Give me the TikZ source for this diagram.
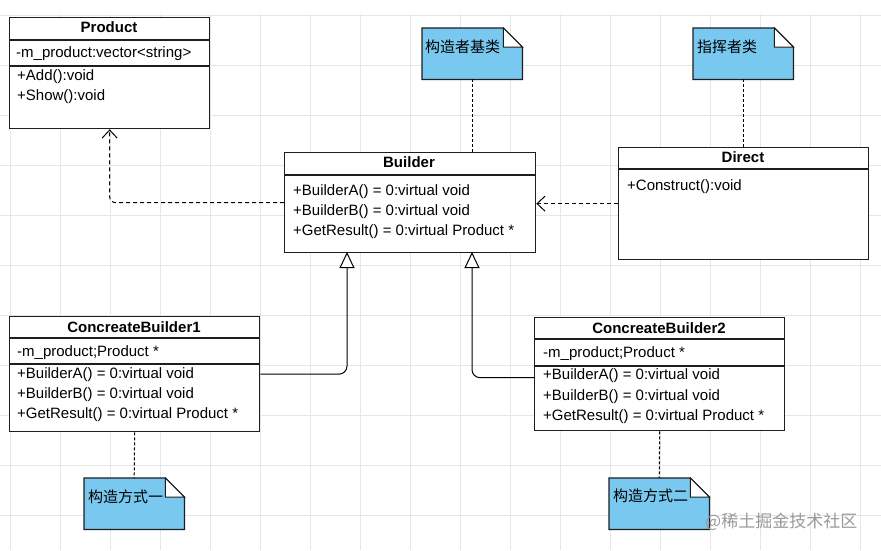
\documentclass[tikz,border=0pt]{standalone}
\usepackage{fontspec}
\setmainfont{Liberation Sans}
\newfontfamily\cjk{Noto Sans CJK SC}
\usetikzlibrary{arrows.meta}
\definecolor{notefill}{HTML}{79C8F0}
\definecolor{gridgray}{HTML}{E6E6E6}
\definecolor{inkline}{HTML}{1E1E1E}
\tikzset{
  umlbox/.style={draw=inkline,line width=1.3pt,fill=white,anchor=north west,inner sep=0pt},
  classname/.style={font=\fontsize{15}{18}\selectfont\bfseries,anchor=base,inner sep=0pt},
  member/.style={font=\fontsize{15}{18}\selectfont,anchor=base west,inner sep=0pt},
  notetext/.style={font=\cjk\fontsize{15}{18}\selectfont,anchor=west,inner sep=0pt},
  notebox/.style={minimum width=100pt,minimum height=51pt,anchor=north west,inner sep=0pt},
  depend/.style={-{Straight Barb[length=8pt,width=15pt]},line width=1pt,dash pattern=on 4pt off 3pt,rounded corners=6pt},
  inherit/.style={-{Triangle[open,fill=white,length=16pt,width=15pt]},line width=1pt,rounded corners=8pt},
  anchorline/.style={line width=1pt,dash pattern=on 3pt off 2pt}
}
\newcommand{\drawnote}[1]{%
  \filldraw[fill=notefill,draw=inkline,line width=1.2pt]
    (#1.north west) -- ([xshift=-19pt]#1.north east) -- ([yshift=-19pt]#1.north east)
    -- (#1.south east) -- (#1.south west) -- cycle;
  \filldraw[fill=white,draw=inkline,line width=1pt]
    ([xshift=-19pt]#1.north east) -- ([xshift=-19pt,yshift=-19pt]#1.north east)
    -- ([yshift=-19pt]#1.north east) -- cycle;}
\begin{document}
\begin{tikzpicture}[x=1pt,y=-1pt]
  \useasboundingbox[fill=white] (0,0) rectangle (881,550);
  % background grid
  \foreach \gx in {10,60,...,860}
    \draw[gridgray,line width=0.8pt] (\gx,14) -- (\gx,550);
  \foreach \gy in {15,65,...,515}
    \draw[gridgray,line width=0.8pt] (0,\gy) -- (881,\gy);

  % class boxes
  \node[umlbox,minimum width=200pt,minimum height=111pt] (product) at (9,17) {};
  \node[umlbox,minimum width=251pt,minimum height=100pt] (builder) at (284,152) {};
  \node[umlbox,minimum width=250pt,minimum height=112pt] (direct) at (618,147) {};
  \node[umlbox,minimum width=250pt,minimum height=115pt] (cb1) at (9,316) {};
  \node[umlbox,minimum width=250pt,minimum height=113pt] (cb2) at (534,317) {};

  % compartments
  \draw[inkline,line width=1.3pt] ([yshift=-23pt]product.north west) -- ([yshift=-23pt]product.north east);
  \draw[inkline,line width=1.3pt] ([yshift=-49pt]product.north west) -- ([yshift=-49pt]product.north east);
  \draw[inkline,line width=1.3pt] ([yshift=-23pt]builder.north west) -- ([yshift=-23pt]builder.north east);
  \draw[inkline,line width=1.3pt] ([yshift=-22pt]direct.north west) -- ([yshift=-22pt]direct.north east);
  \draw[inkline,line width=1.3pt] ([yshift=-22pt]cb1.north west) -- ([yshift=-22pt]cb1.north east);
  \draw[inkline,line width=1.3pt] ([yshift=-48pt]cb1.north west) -- ([yshift=-48pt]cb1.north east);
  \draw[inkline,line width=1.3pt] ([yshift=-22pt]cb2.north west) -- ([yshift=-22pt]cb2.north east);
  \draw[inkline,line width=1.3pt] ([yshift=-49pt]cb2.north west) -- ([yshift=-49pt]cb2.north east);

  % Product
  \node[classname] (productname) at (109,32) {Product};
  \node[member] (productattr) at (16,57) {-m\_product:vector<string>};
  \node[member] (productadd) at (17,80) {+Add():void};
  \node[member] (productshow) at (17,100) {+Show():void};

  % Builder
  \node[classname] (buildername) at (409,167) {Builder};
  \node[member] (buildera) at (293,195) {+BuilderA() = 0:virtual void};
  \node[member] (builderb) at (293,215) {+BuilderB() = 0:virtual void};
  \node[member] (builderres) at (293,235) {+GetResult() = 0:virtual Product *};

  % Direct
  \node[classname] (directname) at (743,162) {Direct};
  \node[member] (directcon) at (627,190) {+Construct():void};

  % ConcreateBuilder1
  \node[classname] (cbonename) at (134,332) {ConcreateBuilder1};
  \node[member] (cboneattr) at (17,356) {-m\_product;Product *};
  \node[member] (cbonea) at (17,378) {+BuilderA() = 0:virtual void};
  \node[member] (cboneb) at (17,398) {+BuilderB() = 0:virtual void};
  \node[member] (cboneres) at (17,418) {+GetResult() = 0:virtual Product *};

  % ConcreateBuilder2
  \node[classname] (cbtwoname) at (659,333) {ConcreateBuilder2};
  \node[member] (cbtwoattr) at (543,357) {-m\_product;Product *};
  \node[member] (cbtwoa) at (543,379) {+BuilderA() = 0:virtual void};
  \node[member] (cbtwob) at (543,400) {+BuilderB() = 0:virtual void};
  \node[member] (cbtwores) at (543,420) {+GetResult() = 0:virtual Product *};

  % notes
  \node[notebox] (notebuilder) at (422,28) {};
  \node[notebox] (notedirect) at (693,28) {};
  \node[notebox] (noteone) at (84,478) {};
  \node[notebox] (notetwo) at (609,478) {};
  \drawnote{notebuilder}
  \drawnote{notedirect}
  \drawnote{noteone}
  \drawnote{notetwo}
  \node[notetext] (notebuildertext) at (425,47) {构造者基类};
  \node[notetext] (notedirecttext) at (697,47) {指挥者类};
  \node[notetext] (noteonetext) at (88,497) {构造方式一};
  \node[notetext] (notetwotext) at (613,496) {构造方式二};

  % note anchors
  \draw[anchorline] (notebuilder.south) -- (notebuilder.south |- builder.north);
  \draw[anchorline] (notedirect.south) -- (notedirect.south |- direct.north);
  \draw[anchorline] (cb1.south) -- (noteone.north);
  \draw[anchorline] (cb2.south) -- (notetwo.north);

  % relations
  \coordinate (baseone) at (347,252);
  \coordinate (basetwo) at (472,252);
  \draw[depend] (builder.west) -| (product.south);
  \draw[depend] (direct.west) -- (direct.west -| builder.east);
  \draw[inherit] (cb1.east) -| (baseone);
  \draw[inherit] ([yshift=-3.5pt]cb2.west) -| (basetwo);

  % watermark
  \node[font=\cjk\fontsize{17}{20}\selectfont,text=black!40,anchor=west,inner sep=0pt] (mark) at (705,522) {@稀土掘金技术社区};
\end{tikzpicture}
\end{document}
